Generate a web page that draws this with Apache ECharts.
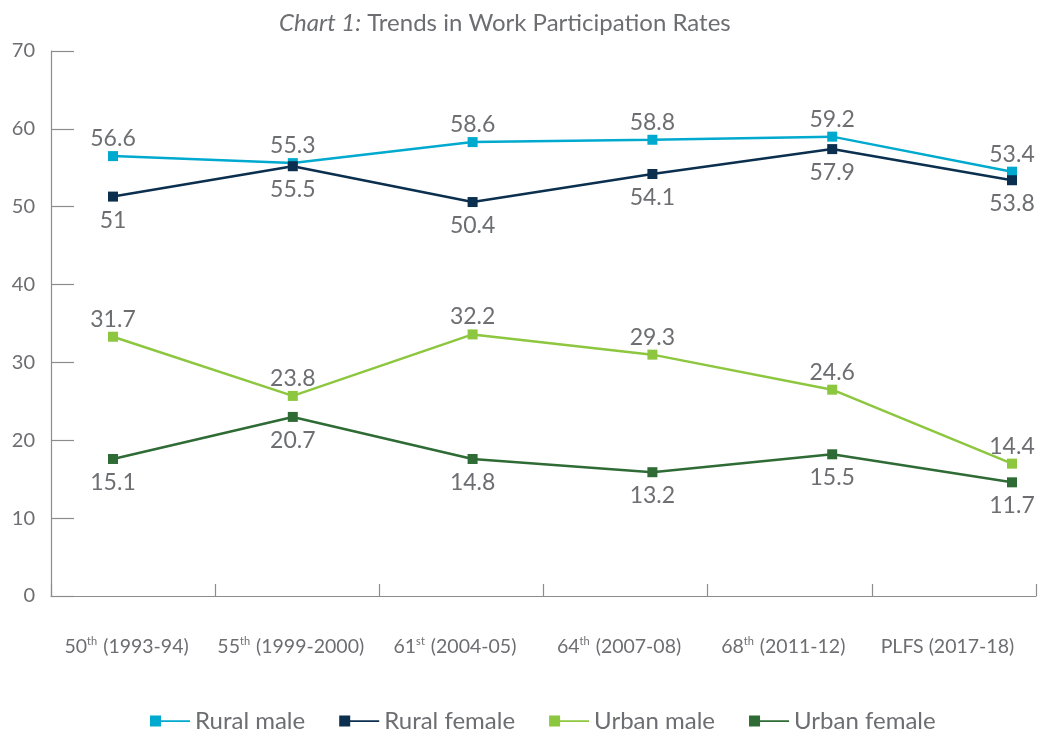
<!DOCTYPE html>
<html>
<head>
<meta charset="utf-8">
<script src="https://cdn.jsdelivr.net/npm/echarts@6/dist/echarts.min.js"></script>
<style>
html,body{margin:0;padding:0;background:#fff;}
#chart{width:1042px;height:731px;}
</style>
</head>
<body>
<div id="chart"></div>
<script>
// Categories (survey rounds)
const categories = ['50th (1993-94)', '55th (1999-2000)', '61st (2004-05)', '64th (2007-08)', '68th (2011-12)', 'PLFS (2017-18)'];
// Y axis ticks
const yTicks = [0, 10, 20, 30, 40, 50, 60, 70];
// Series names
const seriesNames = ['Rural male', 'Rural female', 'Urban male', 'Urban female'];
// Plotted positions
const ruralMale   = [56.5, 55.6, 58.3, 58.6, 59.0, 54.5];
const ruralFemale = [51.3, 55.2, 50.6, 54.2, 57.4, 53.4];
const urbanMale   = [33.3, 25.7, 33.6, 31.0, 26.5, 17.0];
const urbanFemale = [17.6, 23.0, 17.6, 15.9, 18.2, 14.6];
// Printed data labels
const ruralMaleLabels   = ['56.6', '55.3', '58.6', '58.8', '59.2', '53.4'];
const ruralFemaleLabels = ['51', '55.5', '50.4', '54.1', '57.9', '53.8'];
const urbanMaleLabels   = ['31.7', '23.8', '32.2', '29.3', '24.6', '14.4'];
const urbanFemaleLabels = ['15.1', '20.7', '14.8', '13.2', '15.5', '11.7'];

const FONT = 'Lato, "Open Sans", sans-serif';
const TXT = '#6d6e71';
const AX = '#8c8c8c';
const colors = ['#00a9ce', '#0b2f4e', '#8dc63f', '#2e6b35'];

function catLabel(s) {
  const m = s.match(/^(\d+)(th|st|nd|rd)\s*(.*)$/);
  if (m) return '{n|' + m[1] + '}{s|' + m[2] + '}{n| ' + m[3] + '}';
  return '{n|' + s + '}';
}

function mkSeries(i, data, labels, pos) {
  return {
    name: seriesNames[i],
    type: 'line',
    xAxisIndex: 1,
    yAxisIndex: 1,
    data: data,
    symbol: 'rect',
    symbolSize: 10,
    lineStyle: { color: colors[i], width: 2.5 },
    itemStyle: { color: colors[i] },
    label: {
      show: true,
      position: pos,
      distance: pos === 'top' ? 1 : 7,
      fontFamily: FONT,
      fontSize: 23,
      color: TXT,
      formatter: (p) => labels[p.dataIndex]
    },
    emphasis: { disabled: true },
    animation: false
  };
}

const legendIcon = 'path://M0,0H11V11H0Z M11,4.8H40V6.4H11Z';

const chart = echarts.init(document.getElementById('chart'));
chart.setOption({
  backgroundColor: '#ffffff',
  animation: false,
  color: colors,
  title: {
    text: '{i|Chart 1:} Trends in Work Participation Rates',
    left: 274,
    top: 6,
    textStyle: {
      fontFamily: FONT, fontSize: 24, color: TXT, fontWeight: 'normal',
      rich: { i: { fontFamily: FONT, fontSize: 24, color: TXT, fontStyle: 'italic' } }
    }
  },
  legend: {
    data: seriesNames,
    left: 145,
    top: 704,
    itemWidth: 40,
    itemHeight: 11,
    itemGap: 34,
    icon: legendIcon,
    textStyle: { fontFamily: FONT, fontSize: 24, color: TXT }
  },
  grid: [
    { left: 51, right: 6, top: 51, bottom: 135 },
    { left: 113, right: 30, top: 51, bottom: 135 }
  ],
  xAxis: [
    {
      type: 'category', gridIndex: 0, data: categories, boundaryGap: true,
      axisLine: { lineStyle: { color: AX, width: 1.2 } },
      axisTick: { show: true, inside: true, length: 12, interval: 0, lineStyle: { color: AX, width: 1.2 } },
      axisLabel: {
        interval: 0, margin: 40, padding: [0, 13, 0, 0],
        formatter: catLabel,
        rich: {
          n: { fontFamily: FONT, fontSize: 19.5, color: TXT, lineHeight: 22 },
          s: { fontFamily: FONT, fontSize: 11, color: TXT, verticalAlign: 'top', lineHeight: 22, padding: [0, 1, 8, 0] }
        }
      },
      splitLine: { show: false }
    },
    {
      type: 'category', gridIndex: 1, data: categories, boundaryGap: false, show: false
    }
  ],
  yAxis: [
    {
      type: 'value', gridIndex: 0, min: 0, max: 70, interval: 10,
      axisLine: { show: true, lineStyle: { color: AX, width: 1.2 } },
      axisTick: { show: true, inside: true, length: 23, lineStyle: { color: AX, width: 1.2 } },
      axisLabel: {
        margin: 16, fontFamily: FONT, fontSize: 20, color: TXT,
        formatter: (v) => (yTicks.indexOf(v) >= 0 ? String(v) : '')
      },
      splitLine: { show: false }
    },
    {
      type: 'value', gridIndex: 1, min: 0, max: 70, interval: 10, show: false,
      splitLine: { show: false }
    }
  ],
  series: [
    mkSeries(0, ruralMale, ruralMaleLabels, 'top'),
    mkSeries(1, ruralFemale, ruralFemaleLabels, 'bottom'),
    mkSeries(2, urbanMale, urbanMaleLabels, 'top'),
    mkSeries(3, urbanFemale, urbanFemaleLabels, 'bottom')
  ]
});
</script>
</body>
</html>
